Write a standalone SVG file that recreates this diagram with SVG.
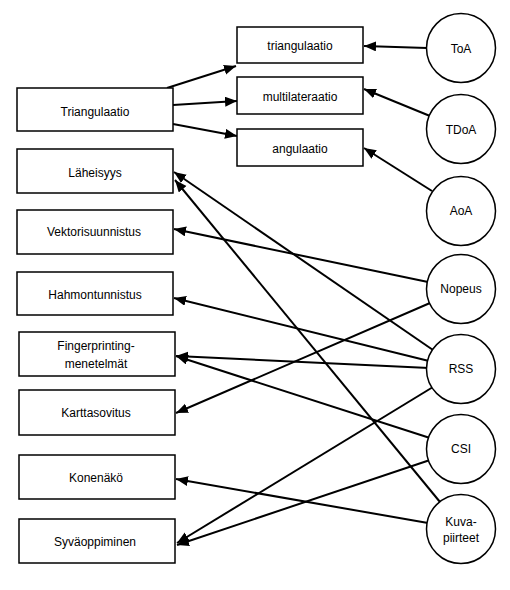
<svg xmlns="http://www.w3.org/2000/svg" width="510" height="590" viewBox="0 0 510 590">
<defs>
<style>
.box{fill:#fff;stroke:#000;stroke-width:1.5}
.circ{fill:#fff;stroke:#000;stroke-width:1.5}
.lbl{font-family:"Liberation Sans",Arial,sans-serif;font-size:12px;fill:#000;text-anchor:middle}
.edge{stroke:#000;stroke-width:2;fill:none;marker-end:url(#arr)}
</style>
<marker id="arr" markerUnits="userSpaceOnUse" markerWidth="14" markerHeight="12" refX="12" refY="5" orient="auto">
<path d="M0,0 L12,5 L0,10 Z" fill="#000"/>
</marker>
</defs>
<rect width="510" height="590" fill="#fff"/>
<g id="connectors">
<line class="edge" x1="167" y1="88" x2="236" y2="66"/>
<line class="edge" x1="173" y1="105" x2="237" y2="101"/>
<line class="edge" x1="173" y1="124" x2="237" y2="136"/>
<line class="edge" x1="427" y1="48" x2="364" y2="46"/>
<line class="edge" x1="430" y1="116" x2="364" y2="89"/>
<line class="edge" x1="432" y1="191" x2="364" y2="148"/>
<line class="edge" x1="428" y1="282" x2="174" y2="229"/>
<line class="edge" x1="433" y1="350" x2="174" y2="172"/>
<line class="edge" x1="440" y1="502" x2="175" y2="180"/>
<line class="edge" x1="429" y1="361" x2="174" y2="298"/>
<line class="edge" x1="429" y1="368" x2="176" y2="356"/>
<line class="edge" x1="430" y1="438" x2="176" y2="356"/>
<line class="edge" x1="430" y1="303" x2="176" y2="413"/>
<line class="edge" x1="428" y1="523" x2="176" y2="479"/>
<line class="edge" x1="433" y1="387" x2="177" y2="543"/>
<line class="edge" x1="430" y1="460" x2="177" y2="545"/>
</g>
<g id="n-triangulaatio-top"><rect class="box" x="237" y="27" width="126" height="36"/><text class="lbl" x="300" y="50">triangulaatio</text></g>
<g id="n-multilateraatio"><rect class="box" x="237" y="77" width="126" height="37"/><text class="lbl" x="300" y="101">multilateraatio</text></g>
<g id="n-angulaatio"><rect class="box" x="237" y="129" width="126" height="37"/><text class="lbl" x="300" y="153">angulaatio</text></g>
<g id="n-Triangulaatio"><rect class="box" x="17" y="88" width="156" height="43"/><text class="lbl" x="95" y="115.5">Triangulaatio</text></g>
<g id="n-Laheisyys"><rect class="box" x="17" y="149" width="156" height="44"/><text class="lbl" x="95" y="176.5">Läheisyys</text></g>
<g id="n-Vektorisuunnistus"><rect class="box" x="17" y="210" width="156" height="44"/><text class="lbl" x="94" y="236">Vektorisuunnistus</text></g>
<g id="n-Hahmontunnistus"><rect class="box" x="17" y="272" width="156" height="43"/><text class="lbl" x="95" y="298.5">Hahmontunnistus</text></g>
<g id="n-Fingerprinting"><rect class="box" x="19" y="332" width="156" height="44"/><text class="lbl" x="96" y="350">Fingerprinting-</text><text class="lbl" x="96" y="368">menetelmät</text></g>
<g id="n-Karttasovitus"><rect class="box" x="19" y="390" width="156" height="45"/><text class="lbl" x="96" y="417">Karttasovitus</text></g>
<g id="n-Konenako"><rect class="box" x="19" y="455" width="156" height="44"/><text class="lbl" x="96" y="482">Konenäkö</text></g>
<g id="n-Syvaoppiminen"><rect class="box" x="19" y="519" width="156" height="44"/><text class="lbl" x="95" y="546">Syväoppiminen</text></g>
<g id="n-ToA"><circle class="circ" cx="461" cy="48" r="34.5"/><text class="lbl" x="461" y="53">ToA</text></g>
<g id="n-TDoA"><circle class="circ" cx="461" cy="129" r="34.5"/><text class="lbl" x="461" y="134">TDoA</text></g>
<g id="n-AoA"><circle class="circ" cx="461" cy="211" r="34.5"/><text class="lbl" x="461" y="215">AoA</text></g>
<g id="n-Nopeus"><circle class="circ" cx="461" cy="289" r="34.5"/><text class="lbl" x="461" y="293">Nopeus</text></g>
<g id="n-RSS"><circle class="circ" cx="461" cy="369" r="34.5"/><text class="lbl" x="461" y="373">RSS</text></g>
<g id="n-CSI"><circle class="circ" cx="461" cy="449" r="34.5"/><text class="lbl" x="461" y="453">CSI</text></g>
<g id="n-Kuvapiirteet"><circle class="circ" cx="461" cy="529" r="34.5"/><text class="lbl" x="461" y="526">Kuva-</text><text class="lbl" x="461" y="542">piirteet</text></g>
</svg>
